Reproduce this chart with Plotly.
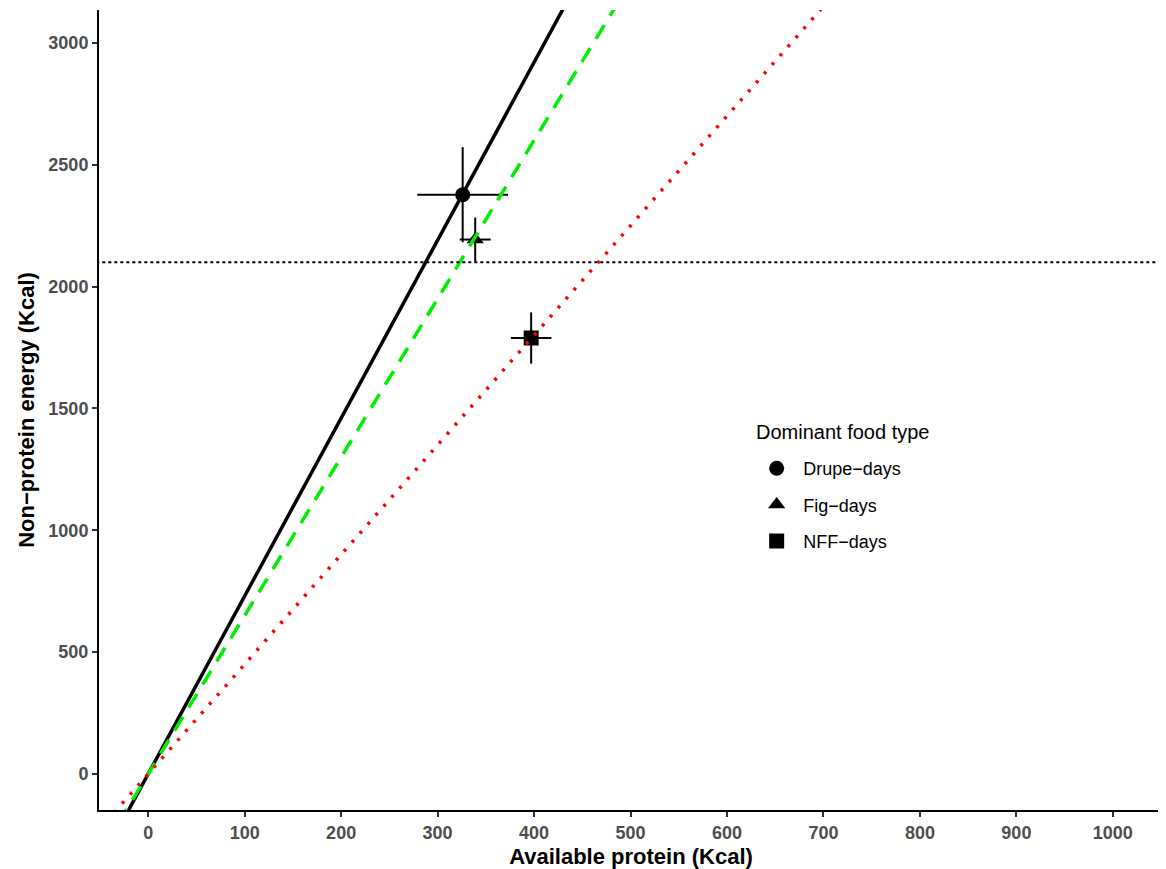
import plotly.graph_objects as go

# Data
food_types = ["Drupe−days", "Fig−days", "NFF−days"]
protein = [326, 339, 397]
protein_err = [47, 16, 21]
energy = [2377, 2193, 1789]
energy_err = [195, 90, 105]
symbols = ["circle", "triangle-up", "square"]

# Reference lines through origin: slopes (NPE : protein ratio)
line_slopes = [7.3, 6.5, 4.5]
line_colors = ["black", "#00EE00", "#FF0000"]
line_dashes = ["solid", "16px,11px", "3px,9px"]
line_x = [-60, 1100]

hline_y = 2100

x_ticks = [0, 100, 200, 300, 400, 500, 600, 700, 800, 900, 1000]
y_ticks = [0, 500, 1000, 1500, 2000, 2500, 3000]

fig = go.Figure()

for name, x, xe, y, ye, sym in zip(food_types, protein, protein_err, energy, energy_err, symbols):
    fig.add_trace(go.Scatter(
        x=[x], y=[y], mode="markers", name=name, legendgroup=name,
        marker=dict(symbol=sym, size=15, color="black"),
        error_x=dict(type="constant", value=xe, color="black", thickness=2, width=0),
        error_y=dict(type="constant", value=ye, color="black", thickness=2, width=0),
    ))

for s, c, d in zip(line_slopes, line_colors, line_dashes):
    fig.add_trace(go.Scatter(
        x=line_x, y=[v * s for v in line_x], mode="lines", showlegend=False,
        line=dict(color=c, width=3.5, dash=d), hoverinfo="skip",
    ))

fig.add_trace(go.Scatter(
    x=line_x, y=[hline_y, hline_y], mode="lines", showlegend=False,
    line=dict(color="black", width=2, dash="dot"), hoverinfo="skip",
))

axis_font = dict(family="Liberation Sans, Arial", size=18, color="#4D4D4D")
title_font = dict(family="Liberation Sans, Arial", size=22, color="black")

fig.add_annotation(
    text="Dominant food type", xref="paper", yref="paper",
    x=0.616, y=0.4725, xanchor="left", yanchor="middle", showarrow=False,
    font=dict(family="Liberation Sans, Arial", size=20, color="black"),
)

fig.update_layout(
    width=1158, height=861,
    margin=dict(l=91, r=3, t=2, b=59),
    plot_bgcolor="white", paper_bgcolor="white",
    font=dict(family="Liberation Sans, Arial"),
    legend=dict(
        font=dict(size=18, color="black"),
        x=0.612, y=0.45, xanchor="left", yanchor="top",
        bgcolor="rgba(0,0,0,0)", itemsizing="trace", itemwidth=43,
        tracegroupgap=10,
    ),
    xaxis=dict(
        range=[-51, 1052], tickvals=x_ticks, ticktext=[f"<b>{v}</b>" for v in x_ticks],
        showgrid=False, zeroline=False, showline=True, linecolor="black", linewidth=2,
        ticks="outside", ticklen=5, tickwidth=1.5, tickcolor="#333333",
        tickfont=axis_font,
        title=dict(text="<b>Available protein (Kcal)</b>", font=title_font, standoff=8),
        automargin=False,
    ),
    yaxis=dict(
        range=[-148, 3135], tickvals=y_ticks, ticktext=[f"<b>{v}</b>" for v in y_ticks],
        showgrid=False, zeroline=False, showline=True, linecolor="black", linewidth=2,
        ticks="outside", ticklen=5, tickwidth=1.5, tickcolor="#333333",
        tickfont=axis_font,
        title=dict(text="<b>Non−protein energy (Kcal)</b>", font=title_font, standoff=8),
        automargin=False,
    ),
)

fig.write_html("out.html")
